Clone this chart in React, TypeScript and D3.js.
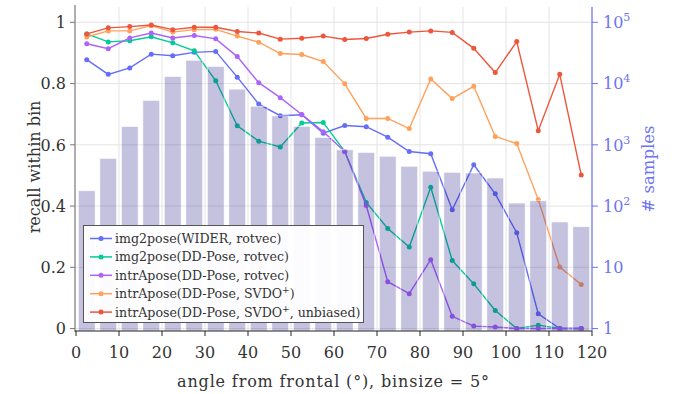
import React, { useEffect, useRef } from 'react';
import * as d3 from 'd3';

// bin centres (deg), binsize = 5
const binCenters = [2.5, 7.5, 12.5, 17.5, 22.5, 27.5, 32.5, 37.5, 42.5, 47.5, 52.5, 57.5,
  62.5, 67.5, 72.5, 77.5, 82.5, 87.5, 92.5, 97.5, 102.5, 107.5, 112.5, 117.5];

const sampleCounts = [178, 600, 1990, 5300, 13000, 24000, 19000, 8100, 4250, 2960, 2000, 1320,
  830, 750, 650, 445, 370, 355, 347, 287, 112, 122, 55, 46];

const img2poseWider = [0.878, 0.830, 0.851, 0.896, 0.891, 0.902, 0.905, 0.821, 0.733, 0.695, 0.698, 0.638,
  0.663, 0.659, 0.625, 0.578, 0.571, 0.388, 0.535, 0.440, 0.313, 0.048, 0, 0];
const img2poseDD = [0.962, 0.936, 0.940, 0.953, 0.933, 0.907, 0.809, 0.662, 0.612, 0.593, 0.671, 0.673,
  0.578, 0.412, 0.327, 0.266, 0.461, 0.222, 0.146, 0.059, 0, 0.011, 0, 0];
const intraRotvec = [0.930, 0.914, 0.949, 0.965, 0.949, 0.957, 0.946, 0.888, 0.803, 0.754, 0.699, 0.643,
  0.578, 0.402, 0.153, 0.114, 0.225, 0.040, 0.008, 0.005, 0, 0, 0, 0];
const intraSvdo = [0.952, 0.972, 0.972, 0.989, 0.968, 0.976, 0.977, 0.955, 0.935, 0.898, 0.895, 0.872,
  0.799, 0.686, 0.686, 0.653, 0.815, 0.751, 0.791, 0.627, 0.604, 0.421, 0.201, 0.144];
const intraSvdoUnbiased = [0.962, 0.982, 0.986, 0.991, 0.976, 0.984, 0.984, 0.970, 0.965, 0.945, 0.948, 0.955,
  0.944, 0.947, 0.961, 0.968, 0.972, 0.967, 0.915, 0.836, 0.937, 0.646, 0.830, 0.501];

const seriesNames = [
  'img2pose(WIDER, rotvec)',
  'img2pose(DD-Pose, rotvec)',
  'intrApose(DD-Pose, rotvec)',
  'intrApose(DD-Pose, SVDO+)',
  'intrApose(DD-Pose, SVDO+, unbiased)',
];
const seriesValues = [img2poseWider, img2poseDD, intraRotvec, intraSvdo, intraSvdoUnbiased];
const seriesColors = ['#636efa', '#00cc96', '#ab63fa', '#ffa15a', '#ef553b'];

const xTicks = [0, 10, 20, 30, 40, 50, 60, 70, 80, 90, 100, 110, 120];
const yTicks = [0, 0.2, 0.4, 0.6, 0.8, 1];
const countExponents = [0, 1, 2, 3, 4, 5];

const FONT = "'DejaVu Serif', 'Liberation Serif', serif";

export default function App() {
  const svgRef = useRef<SVGSVGElement | null>(null);

  useEffect(() => {
    if (!svgRef.current) return;
    const svg = d3.select(svgRef.current);
    svg.selectAll('*').remove();

    const left = 76, right = 592, top = 7, bottom = 331;

    const x = d3.scaleLinear().domain([0, 120]).range([left, right]);
    const y = d3.scaleLinear().domain([-0.008, 1.05]).range([bottom, top]);
    const yCount = d3.scaleLog()
      .domain([Math.pow(10, -0.04), Math.pow(10, 5.25)])
      .range([bottom, top]);

    // grid
    const grid = svg.append('g');
    xTicks.slice(1).forEach(t => {
      grid.append('line')
        .attr('x1', x(t)).attr('x2', x(t))
        .attr('y1', top).attr('y2', bottom)
        .attr('stroke', '#e4e4e4').attr('stroke-width', 1);
    });
    yTicks.forEach(t => {
      grid.append('line')
        .attr('x1', left).attr('x2', right)
        .attr('y1', y(t)).attr('y2', y(t))
        .attr('stroke', '#e4e4e4').attr('stroke-width', 1);
    });

    // recall lines
    const line = d3.line<number>()
      .x((_, i) => x(binCenters[i]))
      .y(d => y(d));

    seriesValues.forEach((vals, k) => {
      const g = svg.append('g');
      g.append('path')
        .attr('d', line(vals))
        .attr('fill', 'none')
        .attr('stroke', seriesColors[k])
        .attr('stroke-width', 1.4);
      g.selectAll('circle')
        .data(vals)
        .enter()
        .append('circle')
        .attr('cx', (_, i) => x(binCenters[i]))
        .attr('cy', d => y(d))
        .attr('r', 2.5)
        .attr('fill', seriesColors[k]);
    });

    // sample count bars (drawn on top, translucent)
    const bw = x(3.9) - x(0);
    svg.append('g')
      .selectAll('rect')
      .data(sampleCounts)
      .enter()
      .append('rect')
      .attr('x', (_, i) => x(binCenters[i]) - bw / 2)
      .attr('y', d => yCount(d))
      .attr('width', bw)
      .attr('height', d => bottom - yCount(d))
      .attr('fill', 'rgb(40,30,140)')
      .attr('fill-opacity', 0.27)
      .attr('stroke', '#ffffff')
      .attr('stroke-opacity', 0.7)
      .attr('stroke-width', 0.8);

    // left axis
    const ax = svg.append('g');
    ax.append('line')
      .attr('x1', left - 1).attr('x2', left - 1)
      .attr('y1', top - 2).attr('y2', bottom + 1)
      .attr('stroke', '#777').attr('stroke-width', 1.2);
    yTicks.forEach(t => {
      ax.append('line')
        .attr('x1', left - 6).attr('x2', left - 1)
        .attr('y1', y(t)).attr('y2', y(t))
        .attr('stroke', '#777');
      ax.append('text')
        .attr('x', left - 10).attr('y', y(t))
        .attr('dy', '0.36em')
        .attr('text-anchor', 'end')
        .attr('font-family', FONT)
        .attr('font-size', 16)
        .attr('fill', '#333')
        .text(t === 0 || t === 1 ? String(t) : t.toFixed(1));
    });
    ax.append('text')
      .attr('transform', `translate(34, ${(top + bottom) / 2 - 2}) rotate(-90)`)
      .attr('text-anchor', 'middle')
      .attr('dy', '0.36em')
      .attr('font-family', FONT)
      .attr('font-size', 16)
      .attr('fill', '#333')
      .text('recall within bin');

    // bottom axis
    ax.append('line')
      .attr('x1', left - 1).attr('x2', right)
      .attr('y1', bottom).attr('y2', bottom)
      .attr('stroke', '#222').attr('stroke-width', 1.2);
    xTicks.forEach(t => {
      ax.append('line')
        .attr('x1', x(t)).attr('x2', x(t))
        .attr('y1', bottom).attr('y2', bottom + 5)
        .attr('stroke', '#222');
      ax.append('text')
        .attr('x', x(t)).attr('y', 358)
        .attr('text-anchor', 'middle')
        .attr('font-family', FONT)
        .attr('font-size', 16)
        .attr('fill', '#333')
        .text(String(t));
    });
    ax.append('text')
      .attr('x', (left + right) / 2 - 1).attr('y', 387)
      .attr('text-anchor', 'middle')
      .attr('font-family', FONT)
      .attr('font-size', 16)
      .attr('textLength', 312)
      .attr('lengthAdjust', 'spacing')
      .attr('fill', '#333')
      .text('angle from frontal (°), binsize = 5°');

    // right axis (# samples, log)
    const blue = '#6f74f2';
    ax.append('line')
      .attr('x1', right).attr('x2', right)
      .attr('y1', top).attr('y2', bottom)
      .attr('stroke', blue).attr('stroke-width', 1.2);
    countExponents.forEach(e => {
      const yy = yCount(Math.pow(10, e));
      ax.append('line')
        .attr('x1', right).attr('x2', right + 6)
        .attr('y1', yy).attr('y2', yy)
        .attr('stroke', blue);
      const tx = ax.append('text')
        .attr('x', right + 11).attr('y', yy)
        .attr('dy', '0.36em')
        .attr('font-family', FONT)
        .attr('font-size', 16)
        .attr('fill', blue);
      if (e === 0) tx.text('1');
      else if (e === 1) tx.text('10');
      else {
        tx.append('tspan').text('10');
        tx.append('tspan').attr('dy', -7).attr('font-size', 11).text(String(e));
      }
    });
    ax.append('text')
      .attr('transform', `translate(648, 169) rotate(-90)`)
      .attr('text-anchor', 'middle')
      .attr('dy', '0.36em')
      .attr('font-family', FONT)
      .attr('font-size', 16.5)
      .attr('fill', blue)
      .text('# samples');

    // legend
    const lg = svg.append('g');
    lg.append('rect')
      .attr('x', 83.5).attr('y', 225.5)
      .attr('width', 280).attr('height', 97)
      .attr('fill', '#fff')
      .attr('fill-opacity', 0.95)
      .attr('stroke', '#555')
      .attr('stroke-width', 1);
    seriesNames.forEach((name, k) => {
      const yy = 238.5 + k * 18.4;
      lg.append('line')
        .attr('x1', 90).attr('x2', 112)
        .attr('y1', yy).attr('y2', yy)
        .attr('stroke', seriesColors[k]).attr('stroke-width', 1.5);
      lg.append('circle')
        .attr('cx', 101).attr('cy', yy).attr('r', 2.5)
        .attr('fill', seriesColors[k]);
      const t = lg.append('text')
        .attr('x', 115).attr('y', yy)
        .attr('dy', '0.36em')
        .attr('font-family', FONT)
        .attr('font-size', 12.6)
        .attr('fill', '#333');
      const parts = name.split('+');
      if (parts.length === 1) {
        t.text(name);
      } else {
        t.append('tspan').text(parts[0]);
        t.append('tspan').attr('dy', -5).attr('font-size', 9).text('+');
        t.append('tspan').attr('dy', 5).text(parts[1]);
      }
    });
  }, []);

  return (
    <svg
      ref={svgRef}
      width={674}
      height={394}
      style={{ position: 'absolute', left: 0, top: 0, background: '#fff' }}
    />
  );
}
